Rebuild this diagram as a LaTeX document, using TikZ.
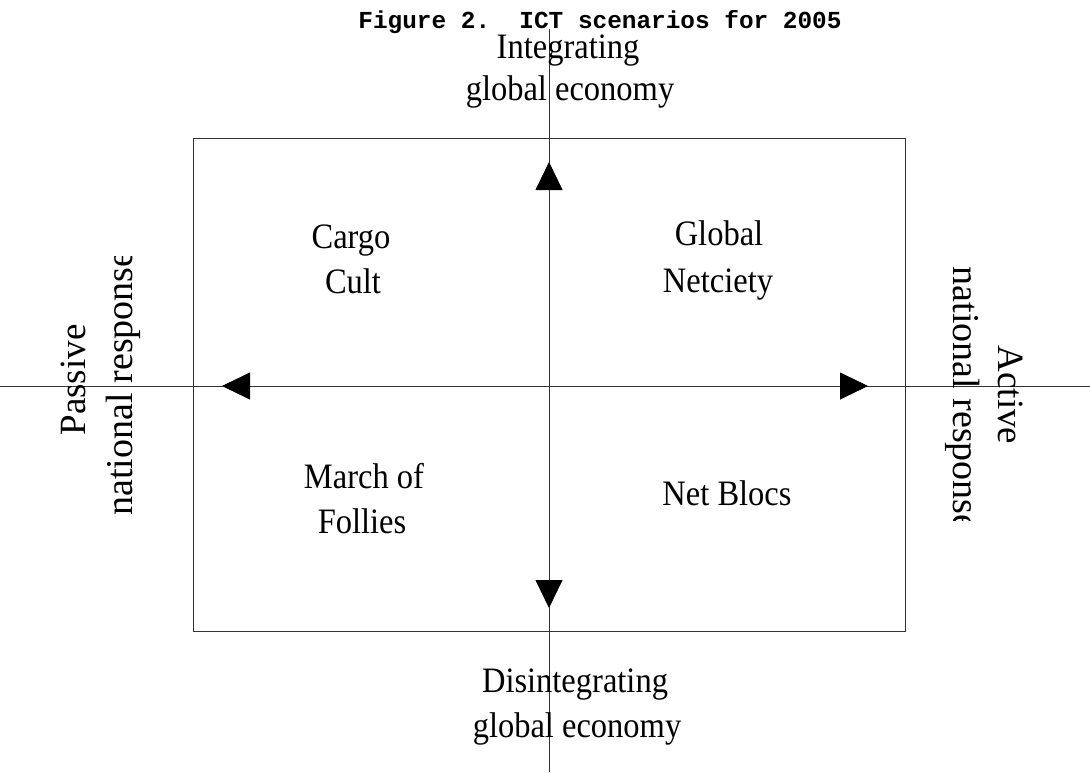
\documentclass[tikz,border=0pt]{standalone}
\usepackage{fontspec}
\setmainfont{Liberation Serif}
\newfontfamily\titlefont{Liberation Mono}
\usetikzlibrary{arrows.meta}
\begin{document}
\begin{tikzpicture}[x=1pt,y=1pt,
  axis/.style={line width=0.9pt,black!80},
  frame/.style={line width=0.9pt,black!80},
  axarrow/.style={line width=0.9pt,black!80,-{Triangle[length=28pt,width=27pt,color=black]}},
  lab/.style={font=\fontsize{32.5}{41}\selectfont,anchor=base,inner sep=0pt,yscale=1.1},
  rlab/.style={font=\fontsize{37}{46}\selectfont,anchor=base,inner sep=0pt},
  rlabb/.style={font=\fontsize{38}{46}\selectfont,anchor=base,inner sep=0pt},
  ttl/.style={font=\titlefont\bfseries\fontsize{24.4}{28}\selectfont,anchor=base,inner sep=0pt}]
\useasboundingbox (0,0) rectangle (1090,-772);
\coordinate (o) at (549,-386);
\coordinate (vtop) at (549,-29);
\coordinate (vbot) at (549,-772);
\coordinate (hleft) at (0,-386);
\coordinate (hright) at (1090,-386);
\coordinate (utip) at (549,-162);
\coordinate (dtip) at (549,-608);
\coordinate (ltip) at (222,-386);
\coordinate (rtip) at (868,-386);
% frame
\draw[frame] (193,-138) rectangle (905,-631);
% axes
\draw[axis] (vtop) -- (vbot);
\draw[axis] (hleft) -- (hright);
\draw[axarrow] (o) -- (utip);
\draw[axarrow] (o) -- (dtip);
\draw[axarrow] (o) -- (ltip);
\draw[axarrow] (o) -- (rtip);
% title
\node[ttl] (title) at (600,-28) {Figure 2.\ \ ICT scenarios for 2005};
% top / bottom labels
\node[lab] (int1) at (568,-58) {Integrating};
\node[lab] (int2) at (570,-100) {global economy};
\node[lab] (dis1) at (575,-692) {Disintegrating};
\node[lab] (dis2) at (577,-737) {global economy};
% quadrants
\node[lab] (cc1) at (351,-248) {Cargo};
\node[lab] (cc2) at (353,-293) {Cult};
\node[lab] (gn1) at (719,-245) {Global};
\node[lab] (gn2) at (718,-292) {Netciety};
\node[lab] (mf1) at (364,-488) {March of};
\node[lab] (mf2) at (362,-533) {Follies};
\node[lab] (nb) at (727,-505) {Net Blocs};
% left rotated label
\begin{scope}
\clip (0,-256) rectangle (193,-772);
\node[rlab,rotate=90] (pas1) at (85,-380) {Passive};
\node[rlabb,rotate=90] (pas2) at (132,-383) {national response};
\end{scope}
% right rotated label
\begin{scope}
\clip (905,0) rectangle (1090,-520);
\node[rlab,rotate=-90] (act1) at (998,-395) {Active};
\node[rlabb,rotate=-90] (act2) at (953,-399) {national response};
\end{scope}
\end{tikzpicture}
\end{document}
